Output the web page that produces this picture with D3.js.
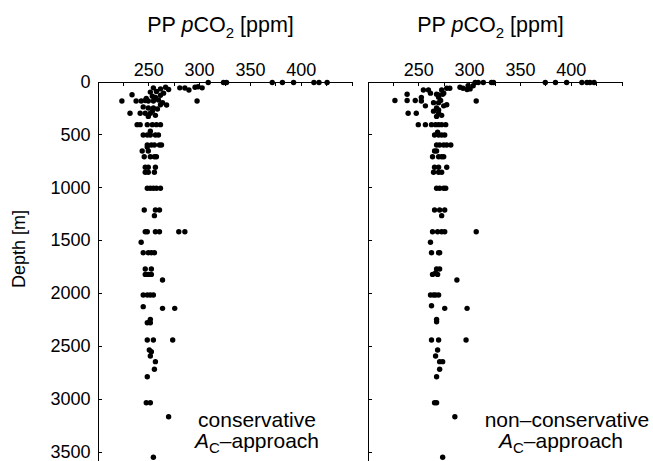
<!DOCTYPE html>
<html>
<head>
<meta charset="utf-8">
<script src="https://cdn.jsdelivr.net/npm/d3@7"></script>
<style>
  html, body { margin: 0; padding: 0; background: #fff; }
  svg { display: block; font-family: "Liberation Sans", Arial, Helvetica, sans-serif; }
</style>
</head>
<body>
<svg id="chart" width="653" height="461"></svg>
<script>
// ---------------- DATA ----------------
const depthTicks = [0, 500, 1000, 1500, 2000, 2500, 3000, 3500];
const pco2Ticks = [200, 225, 250, 275, 300, 325, 350, 375, 400, 425, 450];
const pco2Labels = [250, 300, 350, 400];
const panelNames = ["conservative", "non–conservative"];

// Conservative A_C approach: PP pCO2 [ppm] and depth [m]
const consPCO2 = [
  309, 324, 327, 372, 382, 393, 413, 418, 426,
  255, 262, 267, 270, 281, 286, 290, 296, 299, 303, 298, 268,
  224, 234, 238, 243, 247, 250, 255, 260, 257, 262, 265, 254, 248, 252, 258,
  232, 242, 247, 252, 257, 255, 250, 245, 259, 262, 264, 250, 254,
  239, 242, 249, 254, 258, 262,
  245, 249, 252, 257, 260, 252,
  249, 253, 256, 261, 263, 249,
  244, 250,
  246, 252, 256, 258,
  247, 250, 257,
  247, 250, 256,
  249, 252, 255, 258, 262,
  246, 257, 261,
  256,
  247, 249, 257, 261, 280, 286,
  243,
  245, 250, 253, 256,
  247, 253,
  247, 250, 253,
  264,
  245, 249, 252, 255,
  245,
  264, 276,
  252,
  249, 252,
  249, 255, 274,
  251, 253, 252, 257, 256, 249,
  248, 252,
  270,
  255
];
const consDepth = [
  10, 10, 10, 10, 10, 10, 10, 10, 10,
  60, 70, 55, 75, 60, 62, 80, 55, 50, 60, 185, 222,
  185, 125, 185, 185, 180, 185, 185, 175, 150, 130, 110, 140, 160, 100, 95,
  300, 300, 300, 300, 320, 250, 250, 240, 260, 220, 200, 330, 280,
  408, 408, 408, 408, 408, 408,
  506, 506, 506, 506, 506, 470,
  600, 600, 600, 600, 600, 620,
  657, 657,
  711, 711, 711, 711,
  811, 811, 811,
  858, 858, 858,
  1009, 1009, 1009, 1009, 1009,
  1215, 1215, 1215,
  1268,
  1420, 1420, 1420, 1420, 1420, 1420,
  1520,
  1618, 1618, 1618, 1618,
  1772, 1772,
  1823, 1823, 1823,
  1876,
  2018, 2018, 2018, 2018,
  2128,
  2144, 2144,
  2248,
  2280, 2280,
  2443, 2443, 2443,
  2538, 2554, 2594, 2648, 2720, 2790,
  3036, 3036,
  3168,
  3552
];

// Non-conservative A_C approach
const nonPCO2 = [
  306, 309, 314, 322, 324, 375, 385, 396, 411, 416, 419, 423,
  299, 304, 291, 294, 298, 301, 281, 278, 273, 270, 260, 255, 239, 262, 275, 274, 268,
  227, 239, 247, 253, 253, 257, 265, 270, 272, 270, 307, 278, 275, 268, 265, 270, 273, 240, 248, 268, 270,
  250, 257, 263, 267, 270, 273, 277,
  266, 270, 273, 276, 269,
  268, 271, 275, 278, 282,
  266, 268,
  264, 270, 273, 275,
  266, 270, 278,
  265, 270, 273,
  268, 271, 275, 277,
  266, 271, 276,
  273,
  264, 269, 273, 276, 307,
  262,
  263, 270, 271,
  268, 271,
  264, 267, 269,
  288,
  262, 265, 267, 270,
  263,
  276, 298,
  268, 268,
  263, 270, 297,
  269, 267, 271, 274, 271, 268,
  266, 268,
  286,
  274
];
const nonDepth = [
  10, 10, 10, 10, 10, 10, 10, 10, 10, 10, 10, 10,
  40, 40, 55, 64, 75, 70, 64, 64, 80, 128, 80, 80, 121, 110, 110, 120, 120,
  180, 180, 180, 185, 150, 230, 200, 200, 180, 150, 185, 220, 230, 250, 280, 300, 320, 300, 300, 330, 270,
  408, 408, 408, 408, 408, 408, 408,
  506, 506, 506, 506, 480,
  600, 600, 600, 600, 600,
  657, 657,
  711, 711, 711, 711,
  811, 811, 811,
  858, 858, 858,
  1009, 1009, 1009, 1009,
  1215, 1215, 1215,
  1268,
  1420, 1420, 1420, 1420, 1420,
  1520,
  1618, 1618, 1618,
  1772, 1772,
  1823, 1810, 1823,
  1876,
  2018, 2018, 2018, 2018,
  2120,
  2144, 2144,
  2248, 2270,
  2443, 2443, 2443,
  2538, 2594, 2648, 2648, 2720, 2790,
  3036, 3036,
  3168,
  3552
];

// ---------------- DRAW ----------------
const svg = d3.select("#chart");
const topY = 81.5;
const panelW = 254;
const panels = [
  { x0: 97.5, p: consPCO2, d: consDepth, labels: true,
    ann: [panelNames[0], 257, 257] },
  { x0: 367.5, p: nonPCO2, d: nonDepth, labels: false,
    ann: [panelNames[1], 567, 561] }
];

const y = d3.scaleLinear().domain([0, 3600]).range([0, 380.9]);

panels.forEach((pn, i) => {
  const g = svg.append("g").attr("transform", `translate(${pn.x0},${topY})`);
  const x = d3.scaleLinear().domain([200, 450]).range([0, panelW]);

  // top axis
  const xa = d3.axisTop(x).tickValues(pco2Ticks)
    .tickSizeInner(-4).tickSizeOuter(0).tickPadding(6)
    .tickFormat(v => pco2Labels.includes(v) ? v : "");
  const gx = g.append("g").call(xa);
  gx.attr("font-family", null).attr("font-size", null);
  gx.selectAll("path, line").attr("stroke", "#000").attr("stroke-width", 1).attr("shape-rendering", "crispEdges");
  gx.selectAll("text").attr("font-size", 18).attr("fill", "#000");

  // left axis
  const ya = d3.axisLeft(y).tickValues(depthTicks)
    .tickSizeInner(-4).tickSizeOuter(0).tickPadding(7)
    .tickFormat(v => pn.labels ? v : "");
  const gy = g.append("g").call(ya);
  gy.attr("font-family", null).attr("font-size", null);
  gy.selectAll("path, line").attr("stroke", "#000").attr("stroke-width", 1).attr("shape-rendering", "crispEdges");
  gy.selectAll("text").attr("font-size", 18).attr("fill", "#000");

  // points
  g.append("g").selectAll("circle")
    .data(pn.p.map((v, k) => [v, pn.d[k]]))
    .join("circle")
    .attr("cx", dd => x(dd[0]))
    .attr("cy", dd => y(dd[1]))
    .attr("r", 2.7)
    .attr("fill", "#000");

  // title
  const t = svg.append("text")
    .attr("x", pn.x0 + panelW / 2 - 4)
    .attr("y", 32)
    .attr("text-anchor", "middle")
    .attr("font-size", 21.5)
    .attr("fill", "#000");
  t.append("tspan").text("PP ");
  t.append("tspan").attr("font-style", "italic").text("p");
  t.append("tspan").text("CO");
  t.append("tspan").attr("font-size", 15).attr("dy", 6).text("2");
  t.append("tspan").attr("dy", -6).text(" [ppm]");

  // annotation
  svg.append("text")
    .attr("x", pn.ann[1]).attr("y", 427)
    .attr("text-anchor", "middle")
    .attr("font-size", 21).attr("fill", "#000")
    .text(pn.ann[0]);
  const a = svg.append("text")
    .attr("x", pn.ann[2]).attr("y", 448)
    .attr("text-anchor", "middle")
    .attr("font-size", 21).attr("fill", "#000");
  a.append("tspan").attr("font-style", "italic").text("A");
  a.append("tspan").attr("font-size", 15).attr("dy", 5).text("C");
  a.append("tspan").attr("dy", -5).text("–approach");
});

// y-axis title
svg.append("text")
  .attr("transform", "translate(25,249) rotate(-90)")
  .attr("text-anchor", "middle")
  .attr("font-size", 18)
  .attr("fill", "#000")
  .text("Depth [m]");
</script>
</body>
</html>
